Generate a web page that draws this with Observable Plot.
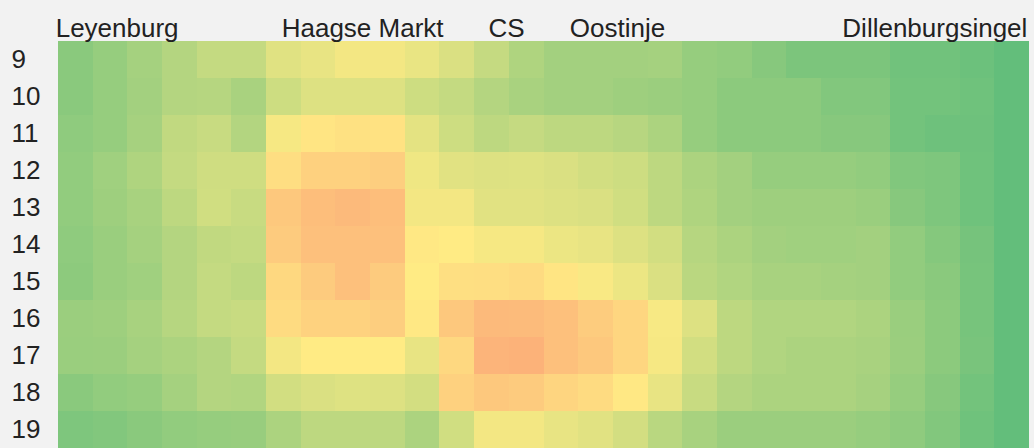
<!DOCTYPE html>
<html><head><meta charset="utf-8">
<script src="https://cdn.jsdelivr.net/npm/d3@7"></script>
<script src="https://cdn.jsdelivr.net/npm/@observablehq/plot@0.6"></script>
<style>
html,body{margin:0;padding:0;background:#f2f2f2;}
#chart svg{display:block;}
</style></head><body><div id="chart"></div>
<script>
// hours of the day (rows)
const hours = [9, 10, 11, 12, 13, 14, 15, 16, 17, 18, 19];
// stop labels along the route and their position (in segment units)
const stopNames = ["Leyenburg", "Haagse Markt", "CS", "Oostinje", "Dillenburgsingel"];
const stopPos = [1.69, 8.77, 12.92, 16.12, 25.27];
const segmentCount = 28;
// index values per hour, one per route segment (-100 = green, 0 = yellow, 100 = red)
const v9  = [-75,-67,-58,-48,-38,-38,-20,-15,-8,-8,-14,-24,-37,-51,-59,-59,-59,-58,-67,-70,-77,-84,-84,-84,-91,-91,-94,-100];
const v10 = [-75,-67,-59,-48,-47,-55,-32,-22,-22,-22,-32,-38,-48,-55,-59,-59,-62,-64,-67,-74,-74,-74,-80,-80,-90,-90,-92,-100];
const v11 = [-72,-67,-57,-40,-35,-49,-6,5,8,7,-17,-32,-42,-37,-42,-42,-46,-53,-67,-74,-74,-74,-77,-77,-90,-93,-93,-100];
const v12 = [-70,-61,-51,-38,-31,-31,10,20,20,22,-10,-19,-22,-21,-24,-29,-32,-42,-53,-59,-67,-67,-67,-70,-81,-83,-92,-100];
const v13 = [-70,-62,-56,-42,-30,-35,27,35,38,35,-8,-8,-19,-19,-22,-24,-30,-42,-51,-59,-62,-62,-62,-65,-77,-83,-92,-100];
const v14 = [-72,-65,-58,-48,-40,-38,25,33,33,33,2,0,-6,-6,-12,-15,-22,-29,-47,-53,-59,-61,-61,-59,-70,-78,-88,-100];
const v15 = [-73,-65,-61,-48,-38,-42,15,25,33,25,0,9,10,12,5,-4,-12,-24,-44,-50,-56,-56,-58,-59,-70,-75,-87,-100];
const v16 = [-64,-62,-56,-47,-38,-35,12,19,19,22,2,27,38,37,33,24,16,-5,-22,-42,-50,-50,-50,-53,-65,-74,-87,-100];
const v17 = [-65,-64,-58,-53,-48,-38,-8,0,0,0,-15,15,42,44,33,27,16,-6,-29,-42,-50,-53,-53,-55,-64,-74,-86,-100];
const v18 = [-75,-70,-67,-58,-48,-50,-29,-24,-21,-22,-28,20,27,25,17,12,2,-15,-35,-48,-53,-53,-53,-57,-67,-77,-90,-100];
const v19 = [-83,-80,-75,-70,-67,-66,-53,-42,-42,-42,-53,-30,-8,-8,-15,-19,-28,-45,-56,-64,-64,-64,-64,-67,-72,-80,-92,-100];
const rowValues = [v9, v10, v11, v12, v13, v14, v15, v16, v17, v18, v19];

const data = [];
hours.forEach((h, r) => rowValues[r].forEach((v, c) => data.push({hour: h, col: c, value: v})));
const stops = stopNames.map((name, i) => ({name, pos: stopPos[i]}));

const chart = Plot.plot({
  width: 1034, height: 448,
  marginTop: 41, marginBottom: 0, marginLeft: 58, marginRight: 5,
  style: {background: "#f2f2f2", fontFamily: "'Liberation Sans', Arial, sans-serif", fontSize: "26px", color: "#222"},
  x: {domain: [0, segmentCount], axis: null},
  y: {domain: hours, padding: 0},
  color: {type: "linear", domain: [-100, 0, 100], range: ["#63BE7B", "#FFEB84", "#F8696B"]},
  marks: [
    Plot.barX(data, {x1: "col", x2: d => d.col + 1, y: "hour", fill: "value", shapeRendering: "crispEdges"}),
    Plot.axisY({tickSize: 0, tickPadding: 0, textAnchor: "start", dx: -47, fontSize: 26, fill: "#222", label: null}),
    Plot.text(stops, {x: "pos", text: "name", frameAnchor: "top", lineAnchor: "bottom", dy: -5, fontSize: 26, fill: "#222"})
  ]
});
document.getElementById("chart").appendChild(chart);
</script></body></html>
